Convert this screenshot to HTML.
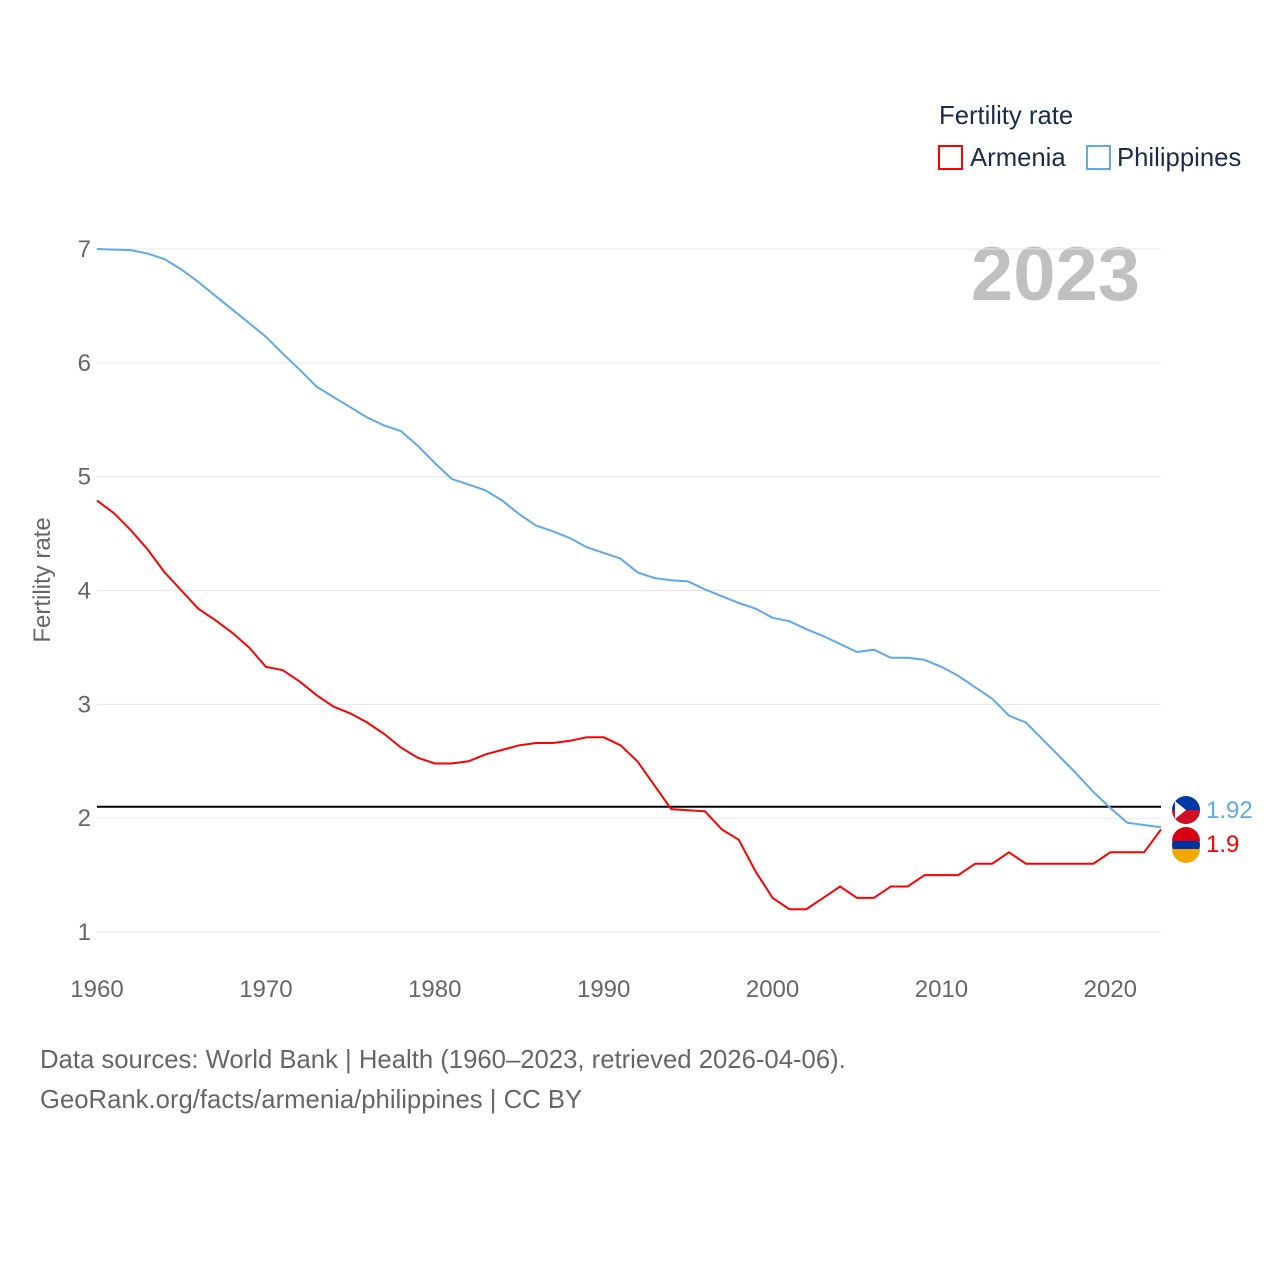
<!DOCTYPE html>
<html><head><meta charset="utf-8"><style>
body{margin:0;background:#fff;font-family:"Liberation Sans",sans-serif}
svg text{font-family:"Liberation Sans",sans-serif}
</style></head><body>
<svg id="chart" width="1280" height="1280">
<text x="939" y="124" font-size="25.7" fill="#1a2b4c">Fertility rate</text>
<g><rect x="939" y="146" width="23" height="23" fill="none" stroke="#f00" stroke-width="2"/><text x="970" y="166" font-size="25.7" fill="#1a2b4c">Armenia</text></g>
<g><rect x="1087" y="146" width="23" height="23" fill="none" stroke="#5ea8ef" stroke-width="2"/><text x="1117" y="166" font-size="25.7" fill="#1a2b4c">Philippines</text></g>
<text x="1140" y="300" text-anchor="end" font-size="76" font-weight="bold" fill="#c0c0c0">2023</text>
<text transform="translate(50,580) rotate(-90)" text-anchor="middle" font-size="24" fill="#666">Fertility rate</text>
<g id="grid"></g><g id="lines"></g>
<text x="40" y="1068" font-size="25.7" fill="#666">Data sources: World Bank | Health (1960–2023, retrieved 2026-04-06).</text>
<text x="40" y="1108" font-size="25.7" fill="#666">GeoRank.org/facts/armenia/philippines | CC BY</text>
</svg>
<script>
const years=[];for(let y=1960;y<=2023;y++)years.push(y);
const philippines=[7.0,6.995,6.99,6.96,6.91,6.82,6.71,6.59,6.47,6.35,6.23,6.08,5.94,5.79,5.70,5.61,5.52,5.45,5.40,5.27,5.12,4.98,4.93,4.88,4.79,4.67,4.57,4.52,4.46,4.38,4.33,4.28,4.16,4.11,4.09,4.08,4.01,3.95,3.89,3.84,3.76,3.73,3.66,3.60,3.53,3.46,3.48,3.41,3.41,3.39,3.33,3.25,3.15,3.05,2.90,2.84,2.69,2.54,2.39,2.23,2.09,1.96,1.94,1.92];
const armenia=[4.79,4.68,4.53,4.36,4.16,4.00,3.84,3.74,3.63,3.50,3.33,3.30,3.20,3.08,2.98,2.92,2.84,2.74,2.62,2.53,2.48,2.48,2.50,2.56,2.60,2.64,2.66,2.66,2.68,2.71,2.71,2.64,2.50,2.29,2.08,2.07,2.06,1.90,1.81,1.53,1.30,1.20,1.20,1.30,1.40,1.30,1.30,1.40,1.40,1.50,1.50,1.50,1.60,1.60,1.70,1.60,1.60,1.60,1.60,1.60,1.70,1.70,1.70,1.90];
const yTicks=[1,2,3,4,5,6,7];
const xTicks=[1960,1970,1980,1990,2000,2010,2020];
const replacement=[2.1];
const NS='http://www.w3.org/2000/svg';
const X=y=>97+(y-1960)*(1161-97)/63;
const Y=v=>932-(v-1)*(932-249)/6;
function mk(tag,attrs,parent,txt){const e=document.createElementNS(NS,tag);for(const k in attrs)e.setAttribute(k,attrs[k]);if(txt!==undefined)e.textContent=txt;parent.appendChild(e);return e;}
const grid=document.getElementById('grid'),lines=document.getElementById('lines');
yTicks.forEach(t=>{
 const l=mk('line',{x1:97,x2:1161,y1:Y(t),y2:Y(t),stroke:'#e6e6e6','stroke-width':1},grid);
 
 
 const tx=mk('text',{x:91,y:Y(t)+8,'text-anchor':'end','font-size':24,fill:'#666'},grid,String(t));
 
 
});
xTicks.forEach(t=>{
 const tx=mk('text',{x:X(t),y:997,'text-anchor':'middle','font-size':24,fill:'#666'},grid,String(t));
 
 
});
const ref=mk('line',{x1:97,x2:1161,y1:Y(replacement[0]),y2:Y(replacement[0]),stroke:'#000','stroke-width':2},lines);


function series(vals,color,name){
 const d=vals.map((v,i)=>(i?'L':'M')+X(years[i]).toFixed(1)+','+Y(v).toFixed(1)).join('');
 const p=mk('path',{d:d,fill:'none',stroke:color,'stroke-width':2},lines);
 
 
}
series(philippines,'#5ea8ef','philippines');
series(armenia,'#f00','armenia');
const last=years.length-1;
const pf=mk('g',{},lines);


const py=810;
mk('circle',{cx:1186,cy:py,r:14,fill:'#0038a8'},pf);
mk('path',{d:`M1172,${py} L1200,${py} A14,14 0 0 1 1172,${py} Z`,fill:'#ce1126'},pf);
mk('path',{d:`M1175,${py-9} L1186,${py} L1175,${py+9} Z`,fill:'#fff'},pf);
const pl=mk('text',{x:1206,y:py+8,'font-size':24,fill:'#5ea8ef'},lines,String(philippines[last]));


const af=mk('g',{},lines);


const ay=845;
mk('circle',{cx:1186,cy:ay,r:14,fill:'#0033a0'},af);
mk('path',{d:`M1172,${ay-4} A14,14 0 0 1 1200,${ay-4} Z`,fill:'#d90012'},af);
mk('path',{d:`M1172,${ay+4} L1200,${ay+4} A14,14 0 0 1 1172,${ay+4} Z`,fill:'#f2a800'},af);
const al=mk('text',{x:1206,y:ay+7,'font-size':24,fill:'#f00'},lines,String(armenia[last]));


</script>
</body></html>
